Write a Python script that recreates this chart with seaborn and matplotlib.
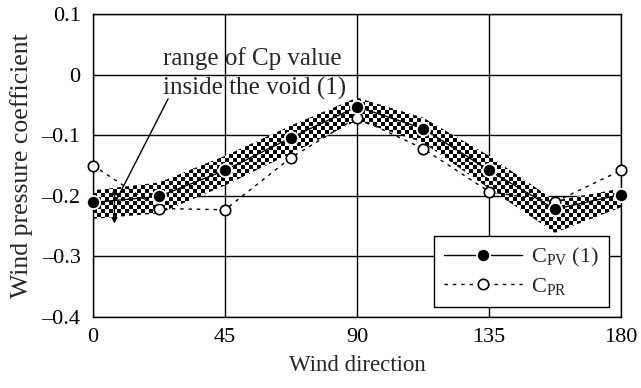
import numpy as np
import pandas as pd
import matplotlib
matplotlib.use("Agg")
import matplotlib.pyplot as plt
import seaborn as sns

# ---- data ----
wind_dir = [0, 22.5, 45, 67.5, 90, 112.5, 135, 157.5, 180]
cpv = [-0.211, -0.201, -0.158, -0.104, -0.053, -0.089, -0.158, -0.222, -0.198]
cpr = [-0.150, -0.221, -0.223, -0.137, -0.071, -0.122, -0.193, -0.210, -0.158]
band_upper = [-0.191, -0.178, -0.134, -0.084, -0.038, -0.071, -0.134, -0.208, -0.188]
band_lower = [-0.238, -0.229, -0.183, -0.130, -0.076, -0.112, -0.188, -0.261, -0.219]
x_ticks = [0, 45, 90, 135, 180]
y_ticks = [-0.4, -0.3, -0.2, -0.1, 0, 0.1]
y_tick_labels = ["–0.4", "–0.3", "–0.2", "–0.1", "0", "0.1"]

df = pd.DataFrame({"dir": wind_dir, "cpv": cpv, "cpr": cpr})

sns.set_style("white")
plt.rcParams["font.family"] = ["Liberation Serif", "DejaVu Serif"]
plt.rcParams["mathtext.fontset"] = "custom"
plt.rcParams["mathtext.rm"] = "Liberation Serif"
plt.rcParams["mathtext.it"] = "Liberation Serif:italic"

fig = plt.figure(figsize=(6.41, 3.88), dpi=100)
ax = fig.add_axes([93 / 641, 1 - 317 / 388, 528 / 641, 303 / 388])

ax.set_xlim(0, 180)
ax.set_ylim(-0.4, 0.1)

# grid
for xv in x_ticks:
    ax.axvline(xv, color="black", lw=1.0, zorder=1)
for yv in y_ticks:
    ax.axhline(yv, color="black", lw=1.0, zorder=1)

# checkered band
poly = ax.fill_between(wind_dir, band_lower, band_upper, color="none", lw=0, zorder=2)
ny, nx = 76, 132
yy, xx = np.indices((ny, nx))
checker = ((yy + xx) % 2).astype(float)
im = ax.imshow(checker, extent=[0, 180, -0.4, 0.1], cmap="gray_r", aspect="auto",
               interpolation="nearest", zorder=2, vmin=0, vmax=1)
im.set_clip_path(poly.get_paths()[0], ax.transData)

# series
sns.lineplot(data=df, x="dir", y="cpr", ax=ax, color="black", lw=1.0,
             linestyle=(0, (2.5, 3.5)), marker="o", markersize=7.5,
             markerfacecolor="white", markeredgecolor="black", markeredgewidth=1.2,
             label=r"C$_{\mathrm{PR}}$", zorder=4, clip_on=False)
sns.lineplot(data=df, x="dir", y="cpv", ax=ax, color="black", lw=1.0,
             marker="o", markersize=9.5, markerfacecolor="black",
             markeredgecolor="white", markeredgewidth=1.3,
             label=r"C$_{\mathrm{PV}}$ (1)", zorder=5, clip_on=False)

# annotation
ax.text(23.9, 0.026, "range of Cp value", fontsize=18, va="center", ha="left", zorder=6)
ax.text(23.9, -0.023, "inside the void (1)", fontsize=18, va="center", ha="left", zorder=6)
ax.plot([25.6, 8.2], [-0.040, -0.205], color="black", lw=1.0, zorder=6)
ax.annotate("", xy=(7.3, -0.246), xytext=(7.3, -0.188),
            arrowprops=dict(arrowstyle="<|-|>", color="black", lw=1.0,
                            mutation_scale=8, shrinkA=0, shrinkB=0), zorder=6)

# axes styling
ax.set_xticks(x_ticks)
ax.set_xticklabels([str(v) for v in x_ticks])
ax.set_yticks(y_ticks)
ax.set_yticklabels(y_tick_labels)
ax.tick_params(axis="both", direction="in", length=0, labelsize=16, colors="black")
ax.tick_params(axis="y", pad=9)
ax.tick_params(axis="x", pad=8)
for s in ax.spines.values():
    s.set_color("black")
    s.set_linewidth(1.0)
ax.set_xlabel("Wind direction", fontsize=16.5, labelpad=6)
ax.set_ylabel("Wind pressure coefficient", fontsize=18.5, labelpad=6)

handles, labels = ax.get_legend_handles_labels()
leg = ax.legend(handles[::-1], labels[::-1], loc="lower right", fontsize=16,
                frameon=True, fancybox=False, edgecolor="black", framealpha=1,
                borderaxespad=0, handlelength=3.5, labelspacing=0.3, borderpad=0.45,
                handletextpad=0.4, bbox_to_anchor=(0.977, 0.033))
leg.get_frame().set_linewidth(1.0)
leg.set_zorder(10)

fig.savefig("out.png", dpi=100)
